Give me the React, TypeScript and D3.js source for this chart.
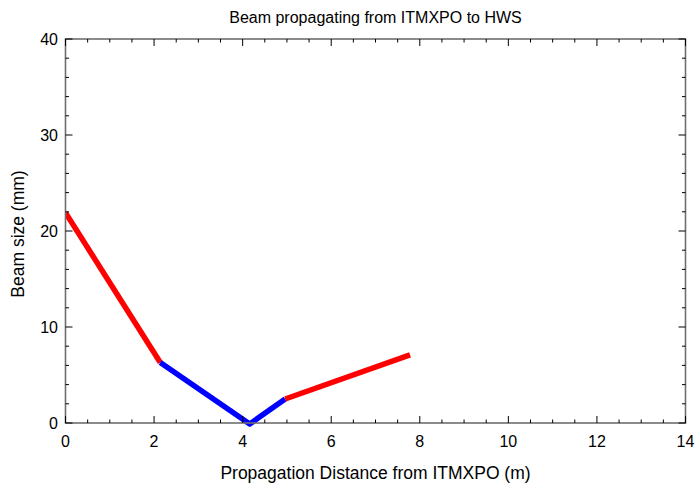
import React from "react";
import * as d3 from "d3";

const xTicks = [0, 2, 4, 6, 8, 10, 12, 14];
const yTicks = [0, 10, 20, 30, 40];
const redSeg1 = [
  { x: 0, y: 21.9 },
  { x: 2.14, y: 6.3 },
];
const blueSeg = [
  { x: 2.14, y: 6.3 },
  { x: 4.16, y: -0.1 },
  { x: 4.96, y: 2.5 },
];
const redSeg2 = [
  { x: 4.96, y: 2.5 },
  { x: 7.78, y: 7.1 },
];

const W = 696;
const H = 487;
const M = { left: 65.5, right: 685.5, top: 39, bottom: 423 };

export default function App() {
  const x = d3.scaleLinear().domain([0, 14]).range([M.left, M.right]);
  const y = d3.scaleLinear().domain([0, 40]).range([M.bottom, M.top]);
  const line = d3
    .line<{ x: number; y: number }>()
    .x((d) => x(d.x))
    .y((d) => y(d.y));
  const xMinor = d3.range(0, 14.001, 0.5).filter((v) => Math.abs(v % 2) > 1e-6);
  const yMinor = d3.range(0, 40.001, 2).filter((v) => Math.abs(v % 10) > 1e-6);
  const font = "Liberation Sans, Arial, sans-serif";
  return (
    <svg
      width={W}
      height={H}
      style={{ position: "absolute", left: 0, top: 0 }}
      fontFamily={font}
    >
      <rect width={W} height={H} fill="white" />
      <g clipPath="url(#clip)">
        <path d={line(redSeg1) || ""} stroke="#ff0000" strokeWidth={5.5} fill="none" />
        <path d={line(blueSeg) || ""} stroke="#0000ff" strokeWidth={5.5} fill="none" strokeLinejoin="round" />
        <path d={line(redSeg2) || ""} stroke="#ff0000" strokeWidth={5.5} fill="none" />
      </g>
      <rect
        x={M.left}
        y={M.top}
        width={M.right - M.left}
        height={M.bottom - M.top}
        fill="none"
        stroke="#6e6e6e"
        strokeWidth={1.6}
      />
      {xTicks.map((t) => (
        <g key={"xt" + t}>
          <line x1={x(t)} x2={x(t)} y1={M.bottom} y2={M.bottom - 7} stroke="#000" strokeWidth={1} />
          <line x1={x(t)} x2={x(t)} y1={M.top} y2={M.top + 7} stroke="#000" strokeWidth={1} />
          <text x={x(t)} y={M.bottom + 24} fontSize={16} textAnchor="middle" fill="#000">
            {t}
          </text>
        </g>
      ))}
      {xMinor.map((t) => (
        <g key={"xm" + t}>
          <line x1={x(t)} x2={x(t)} y1={M.bottom} y2={M.bottom - 3.5} stroke="#000" strokeWidth={1} />
          <line x1={x(t)} x2={x(t)} y1={M.top} y2={M.top + 3.5} stroke="#000" strokeWidth={1} />
        </g>
      ))}
      {yTicks.map((t) => (
        <g key={"yt" + t}>
          <line x1={M.left} x2={M.left + 7} y1={y(t)} y2={y(t)} stroke="#000" strokeWidth={1} />
          <line x1={M.right} x2={M.right - 7} y1={y(t)} y2={y(t)} stroke="#000" strokeWidth={1} />
          <text x={M.left - 7.5} y={y(t) + 6} fontSize={16} textAnchor="end" fill="#000">
            {t}
          </text>
        </g>
      ))}
      {yMinor.map((t) => (
        <g key={"ym" + t}>
          <line x1={M.left} x2={M.left + 3.5} y1={y(t)} y2={y(t)} stroke="#000" strokeWidth={1} />
          <line x1={M.right} x2={M.right - 3.5} y1={y(t)} y2={y(t)} stroke="#000" strokeWidth={1} />
        </g>
      ))}
      <text x={(M.left + M.right) / 2} y={23} fontSize={16} textAnchor="middle" fill="#000">
        Beam propagating from ITMXPO to HWS
      </text>
      <text x={(M.left + M.right) / 2} y={479} fontSize={17.5} textAnchor="middle" fill="#000">
        Propagation Distance from ITMXPO (m)
      </text>
      <text
        transform={`translate(24, ${(M.top + M.bottom) / 2 + 3}) rotate(-90)`}
        fontSize={17.5}
        textAnchor="middle"
        fill="#000"
      >
        Beam size (mm)
      </text>
      <defs>
        <clipPath id="clip">
          <rect x={M.left} y={M.top - 5} width={M.right - M.left} height={M.bottom - M.top + 10} />
        </clipPath>
      </defs>
    </svg>
  );
}
